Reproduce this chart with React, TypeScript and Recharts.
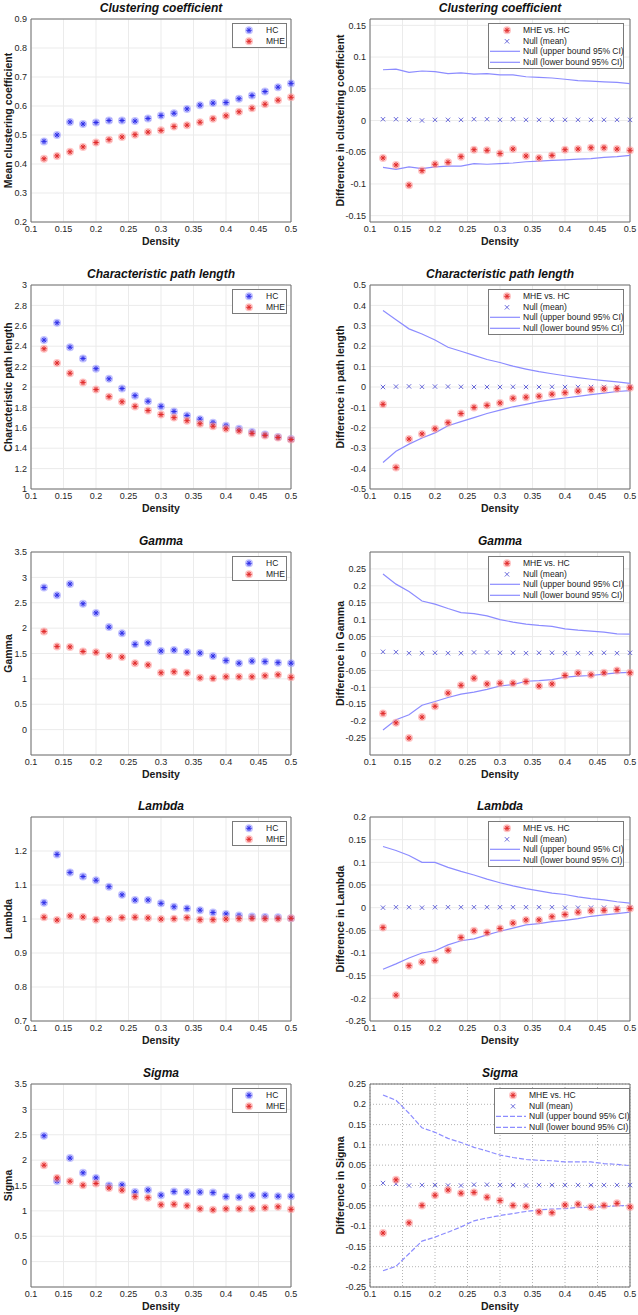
import React from 'react';
import { ComposedChart, Scatter, Line, XAxis, YAxis, CartesianGrid, ReferenceArea, Legend, Label } from 'recharts';

const density = [0.12, 0.14, 0.16, 0.18, 0.2, 0.22, 0.24, 0.26, 0.28, 0.3, 0.32, 0.34, 0.36, 0.38, 0.4, 0.42, 0.44, 0.46, 0.48, 0.5];
const densityTicks = [0.1, 0.15, 0.2, 0.25, 0.3, 0.35, 0.4, 0.45, 0.5];

// clustering coefficient
const ccHC = [0.478, 0.5, 0.545, 0.538, 0.543, 0.55, 0.55, 0.548, 0.557, 0.567, 0.575, 0.59, 0.603, 0.61, 0.612, 0.625, 0.636, 0.65, 0.665, 0.678];
const ccMHE = [0.418, 0.428, 0.442, 0.459, 0.474, 0.484, 0.493, 0.501, 0.51, 0.516, 0.529, 0.534, 0.544, 0.556, 0.566, 0.58, 0.592, 0.606, 0.62, 0.63];
const ccDiff = [-0.059, -0.07, -0.102, -0.079, -0.069, -0.066, -0.057, -0.046, -0.047, -0.052, -0.045, -0.056, -0.059, -0.055, -0.046, -0.045, -0.043, -0.043, -0.045, -0.047];
const ccNull = [0.002, 0.002, 0.001, 0.0, 0.001, 0.001, 0.001, 0.002, 0.002, 0.001, 0.002, 0.001, 0.001, 0.001, 0.001, 0.001, 0.001, 0.001, 0.001, 0.001];
const ccUpper = [0.08, 0.081, 0.076, 0.078, 0.077, 0.074, 0.075, 0.073, 0.074, 0.072, 0.072, 0.069, 0.068, 0.067, 0.065, 0.063, 0.062, 0.061, 0.06, 0.058];
const ccLower = [-0.074, -0.077, -0.073, -0.076, -0.073, -0.072, -0.072, -0.068, -0.069, -0.068, -0.067, -0.065, -0.064, -0.063, -0.062, -0.061, -0.06, -0.058, -0.057, -0.055];
const ccTicks = [0.2, 0.3, 0.4, 0.5, 0.6, 0.7, 0.8, 0.9];
const ccDiffTicks = [-0.15, -0.1, -0.05, 0, 0.05, 0.1, 0.15];

// characteristic path length
const plHC = [2.46, 2.63, 2.39, 2.28, 2.18, 2.08, 1.985, 1.915, 1.86, 1.81, 1.76, 1.72, 1.685, 1.65, 1.62, 1.59, 1.56, 1.535, 1.51, 1.49];
const plMHE = [2.375, 2.235, 2.135, 2.045, 1.975, 1.905, 1.855, 1.81, 1.77, 1.73, 1.7, 1.67, 1.64, 1.615, 1.59, 1.57, 1.545, 1.525, 1.505, 1.485];
const plDiff = [-0.085, -0.395, -0.255, -0.23, -0.205, -0.175, -0.13, -0.1, -0.09, -0.078, -0.055, -0.05, -0.045, -0.035, -0.028, -0.02, -0.013, -0.01, -0.008, -0.004];
const plNull = [0.0, 0.002, 0.003, 0.001, 0.002, 0.002, 0.001, 0.0, 0.0, 0.0, 0.001, 0.0, 0.0, 0.001, 0.0, 0.0, 0.0, 0.0, 0.0, 0.0];
const plUpper = [0.375, 0.33, 0.285, 0.26, 0.23, 0.195, 0.175, 0.155, 0.135, 0.12, 0.102, 0.088, 0.075, 0.065, 0.055, 0.046, 0.038, 0.031, 0.025, 0.018];
const plLower = [-0.37, -0.315, -0.28, -0.25, -0.225, -0.19, -0.17, -0.15, -0.13, -0.113, -0.097, -0.085, -0.072, -0.062, -0.054, -0.046, -0.037, -0.03, -0.022, -0.018];
const plTicks = [1, 1.2, 1.4, 1.6, 1.8, 2, 2.2, 2.4, 2.6, 2.8, 3];
const plDiffTicks = [-0.5, -0.4, -0.3, -0.2, -0.1, 0, 0.1, 0.2, 0.3, 0.4, 0.5];

// gamma
const gHC = [2.8, 2.65, 2.87, 2.48, 2.3, 2.02, 1.9, 1.68, 1.71, 1.55, 1.57, 1.53, 1.51, 1.45, 1.36, 1.31, 1.35, 1.34, 1.32, 1.31];
const gMHE = [1.935, 1.64, 1.63, 1.54, 1.525, 1.45, 1.43, 1.31, 1.275, 1.12, 1.14, 1.12, 1.02, 1.01, 1.04, 1.04, 1.04, 1.06, 1.08, 1.03];
const gDiff = [-0.177, -0.205, -0.25, -0.188, -0.156, -0.117, -0.094, -0.073, -0.09, -0.088, -0.088, -0.083, -0.096, -0.09, -0.065, -0.058, -0.063, -0.057, -0.05, -0.057];
const gNull = [0.005, 0.004, 0.001, 0.001, 0.002, 0.001, 0.001, 0.003, 0.003, 0.002, 0.002, 0.001, 0.002, 0.002, 0.001, 0.001, 0.001, 0.002, 0.001, 0.002];
const gUpper = [0.235, 0.205, 0.183, 0.155, 0.146, 0.133, 0.121, 0.118, 0.111, 0.1, 0.093, 0.087, 0.083, 0.08, 0.073, 0.069, 0.066, 0.063, 0.058, 0.057];
const gLower = [-0.226, -0.196, -0.181, -0.153, -0.142, -0.13, -0.12, -0.114, -0.106, -0.096, -0.092, -0.082, -0.08, -0.077, -0.07, -0.067, -0.065, -0.061, -0.057, -0.056];
const gTicks = [0, 0.5, 1, 1.5, 2, 2.5, 3, 3.5];
const gDiffTicks = [-0.25, -0.2, -0.15, -0.1, -0.05, 0, 0.05, 0.1, 0.15, 0.2, 0.25];

// lambda
const lHC = [1.048, 1.19, 1.137, 1.125, 1.114, 1.095, 1.071, 1.056, 1.056, 1.046, 1.036, 1.031, 1.026, 1.019, 1.015, 1.01, 1.007, 1.006, 1.005, 1.002];
const lMHE = [1.005, 0.997, 1.009, 1.006, 0.998, 1.0, 1.004, 1.005, 1.003, 1.0, 1.001, 1.004, 0.998, 0.998, 1.0, 1.001, 1.002, 1.001, 1.001, 1.002];
const lDiff = [-0.044, -0.193, -0.128, -0.12, -0.116, -0.094, -0.066, -0.051, -0.055, -0.046, -0.034, -0.027, -0.027, -0.02, -0.015, -0.01, -0.007, -0.006, -0.004, -0.002];
const lNull = [0.0, 0.001, 0.001, 0.0, 0.001, 0.001, 0.001, 0.001, 0.001, 0.001, 0.001, 0.001, 0.001, 0.001, 0.0, 0.0, 0.0, 0.0, 0.0, 0.0];
const lUpper = [0.135, 0.126, 0.115, 0.1, 0.1, 0.089, 0.08, 0.072, 0.063, 0.055, 0.048, 0.042, 0.037, 0.032, 0.029, 0.024, 0.02, 0.017, 0.013, 0.01];
const lLower = [-0.136, -0.124, -0.111, -0.1, -0.095, -0.082, -0.073, -0.069, -0.06, -0.052, -0.045, -0.038, -0.035, -0.031, -0.028, -0.024, -0.019, -0.016, -0.013, -0.01];
const lTicks = [0.7, 0.8, 0.9, 1, 1.1, 1.2];
const lDiffTicks = [-0.25, -0.2, -0.15, -0.1, -0.05, 0, 0.05, 0.1, 0.15, 0.2];

// sigma
const sHC = [2.48, 1.59, 2.04, 1.75, 1.65, 1.5, 1.51, 1.37, 1.41, 1.31, 1.38, 1.37, 1.37, 1.36, 1.28, 1.27, 1.31, 1.31, 1.29, 1.29];
const sMHE = [1.9, 1.65, 1.585, 1.505, 1.54, 1.45, 1.41, 1.28, 1.26, 1.12, 1.13, 1.1, 1.04, 1.02, 1.04, 1.04, 1.04, 1.06, 1.08, 1.03];
const sDiff = [-0.117, 0.014, -0.092, -0.049, -0.024, -0.011, -0.019, -0.017, -0.029, -0.037, -0.049, -0.051, -0.065, -0.067, -0.048, -0.046, -0.053, -0.049, -0.044, -0.053];
const sNull = [0.006, 0.004, 0.0, 0.001, 0.001, 0.0, 0.0, 0.002, 0.002, 0.001, 0.001, 0.0, 0.001, 0.001, 0.001, 0.001, 0.001, 0.001, 0.001, 0.001];
const sUpper = [0.223, 0.21, 0.178, 0.142, 0.131, 0.116, 0.106, 0.094, 0.085, 0.075, 0.069, 0.064, 0.062, 0.061, 0.058, 0.058, 0.058, 0.054, 0.052, 0.049];
const sLower = [-0.21, -0.199, -0.168, -0.137, -0.127, -0.115, -0.102, -0.087, -0.08, -0.074, -0.069, -0.064, -0.06, -0.058, -0.057, -0.054, -0.054, -0.052, -0.05, -0.049];
const sTicks = [0, 0.5, 1, 1.5, 2, 2.5, 3, 3.5];
const sDiffTicks = [-0.25, -0.2, -0.15, -0.1, -0.05, 0, 0.05, 0.1, 0.15, 0.2, 0.25];

const FONT = '"Liberation Sans", Arial, Helvetica, sans-serif';
const BLUE = { stroke: '#2f2fe8', halo: '#9c9cff' };
const RED = { stroke: '#e02a2a', halo: '#ff9e9e' };
const NULL_X = '#5a5ad6';
const CI_LINE = '#8c8cff';

const fmt = (v: number) => String(Math.round(v * 1000) / 1000);

function Asterisk({ cx, cy, color }: any) {
  const r = 2.7;
  const d = r * 0.7071;
  return (
    <g>
      <circle cx={cx} cy={cy} r={4} fill={color.halo} opacity={0.6} />
      <path
        d={`M${cx - r},${cy}H${cx + r}M${cx},${cy - r}V${cy + r}M${cx - d},${cy - d}L${cx + d},${cy + d}M${cx - d},${cy + d}L${cx + d},${cy - d}`}
        stroke={color.stroke}
        strokeWidth={1}
      />
    </g>
  );
}

function Cross({ cx, cy }: any) {
  const r = 2.2;
  return (
    <path
      d={`M${cx - r},${cy - r}L${cx + r},${cy + r}M${cx - r},${cy + r}L${cx + r},${cy - r}`}
      stroke={NULL_X}
      strokeWidth={0.9}
    />
  );
}

type LegendItem = { label: string; kind: 'hc' | 'mhe' | 'null' | 'line' };

function LegendBox({ items, width, markerX, textX, dashed }: any) {
  return (
    <div
      style={{
        width,
        boxSizing: 'border-box',
        border: '1px solid #7a7a7a',
        background: '#fff',
        fontFamily: FONT,
        fontSize: 8.5,
        color: '#1a1a1a',
        padding: '1px 0 1px 0',
      }}
    >
      {items.map((it: LegendItem) => (
        <div key={it.label} style={{ position: 'relative', height: 10.6, lineHeight: '10.6px' }}>
          <svg width={32} height={10.6} style={{ position: 'absolute', left: 0, top: 0 }}>
            {it.kind === 'hc' && <Asterisk cx={markerX} cy={5.3} color={BLUE} />}
            {it.kind === 'mhe' && <Asterisk cx={markerX} cy={5.3} color={RED} />}
            {it.kind === 'null' && <Cross cx={markerX} cy={5.3} />}
            {it.kind === 'line' && (
              <line x1={1} x2={31} y1={5.3} y2={5.3} stroke={CI_LINE} strokeWidth={1.2} strokeDasharray={dashed ? '5 2' : undefined} />
            )}
          </svg>
          <span style={{ position: 'absolute', left: textX, top: 0, whiteSpace: 'nowrap' }}>{it.label}</span>
        </div>
      ))}
    </div>
  );
}

const groupLegend: LegendItem[] = [
  { label: 'HC', kind: 'hc' },
  { label: 'MHE', kind: 'mhe' },
];
const diffLegend: LegendItem[] = [
  { label: 'MHE vs. HC', kind: 'mhe' },
  { label: 'Null (mean)', kind: 'null' },
  { label: 'Null (upper bound 95% CI)', kind: 'line' },
  { label: 'Null (lower bound 95% CI)', kind: 'line' },
];

function Panel(props: any) {
  const { left, top, plotH, side, title, yLabel, domain, ticks, series, dashed, dotted } = props;
  const isLeft = side === 'left';
  const width = isLeft ? 300 : 320;
  const axisW = isLeft ? 31 : 52;
  const rightM = isLeft ? 9 : 8;
  const height = 20 + plotH + 28;
  const data = density.map((x, i) => {
    const row: any = { x };
    Object.keys(series).forEach((k) => (row[k] = series[k][i]));
    return row;
  });
  const labelX = isLeft ? 8.3 : 22;

  return (
    <div style={{ position: 'absolute', left, top, width, height }}>
      <ComposedChart width={width} height={height} data={data} margin={{ top: 20, right: rightM, left: 0, bottom: 0 }}>
        <CartesianGrid
          stroke={dotted ? '#b4b4b4' : '#ebebeb'}
          strokeDasharray={dotted ? '1 2' : undefined}
        />
        <XAxis
          dataKey="x"
          type="number"
          domain={[0.1, 0.5]}
          ticks={densityTicks}
          interval={0}
          tickFormatter={fmt}
          axisLine={false}
          tickLine={false}
          tickSize={3}
          tickMargin={1}
          height={28}
          tick={{ fontSize: 9, fill: '#262626', fontFamily: FONT }}
        >
          <Label
            content={({ viewBox }: any) => (
              <text
                x={viewBox.x + viewBox.width / 2}
                y={viewBox.y + 19}
                textAnchor="middle"
                dominantBaseline="central"
                fontFamily={FONT}
                fontSize={10.5}
                fontWeight="bold"
                fill="#1a1a1a"
              >
                Density
              </text>
            )}
          />
        </XAxis>
        <YAxis
          type="number"
          domain={domain}
          ticks={ticks}
          interval={0}
          allowDataOverflow
          tickFormatter={fmt}
          axisLine={false}
          tickLine={false}
          tickSize={2}
          tickMargin={2}
          width={axisW}
          tick={{ fontSize: 9, fill: '#262626', fontFamily: FONT }}
        >
          <Label
            content={({ viewBox }: any) => {
              const cy = viewBox.y + viewBox.height / 2;
              return (
                <text
                  x={labelX}
                  y={cy}
                  transform={`rotate(-90, ${labelX}, ${cy})`}
                  textAnchor="middle"
                  dominantBaseline="central"
                  fontFamily={FONT}
                  fontSize={10.5}
                  fontWeight="bold"
                  fill="#1a1a1a"
                >
                  {yLabel}
                </text>
              );
            }}
          />
        </YAxis>
        <ReferenceArea x1={0.1} x2={0.5} y1={domain[0]} y2={domain[1]} fill="none" stroke="#6f6f6f" strokeWidth={1} fillOpacity={0}>
          <Label
            content={({ viewBox }: any) => (
              <text
                x={viewBox.x + viewBox.width / 2}
                y={viewBox.y - 11.5}
                textAnchor="middle"
                dominantBaseline="central"
                fontFamily={FONT}
                fontSize={12}
                fontWeight="bold"
                fontStyle="italic"
                fill="#111"
              >
                {title}
              </text>
            )}
          />
        </ReferenceArea>
        {isLeft ? (
          <>
            <Scatter dataKey="hc" data={data} isAnimationActive={false} shape={(p: any) => <Asterisk cx={p.cx} cy={p.cy} color={BLUE} />} />
            <Scatter dataKey="mhe" data={data} isAnimationActive={false} shape={(p: any) => <Asterisk cx={p.cx} cy={p.cy} color={RED} />} />
          </>
        ) : (
          <>
            <Line dataKey="upper" stroke={CI_LINE} strokeWidth={1.2} dot={false} activeDot={false} strokeDasharray={dashed ? '5 2' : undefined} isAnimationActive={false} />
            <Line dataKey="lower" stroke={CI_LINE} strokeWidth={1.2} dot={false} activeDot={false} strokeDasharray={dashed ? '5 2' : undefined} isAnimationActive={false} />
            <Scatter dataKey="nullMean" data={data} isAnimationActive={false} shape={(p: any) => <Cross cx={p.cx} cy={p.cy} />} />
            <Scatter dataKey="diff" data={data} isAnimationActive={false} shape={(p: any) => <Asterisk cx={p.cx} cy={p.cy} color={RED} />} />
          </>
        )}
        <Legend
          layout="vertical"
          align="center"
          verticalAlign="middle"
          wrapperStyle={
            isLeft
              ? { position: 'absolute', left: 232, top: 24, width: 55 }
              : { position: 'absolute', left: dashed ? 176 : 170, top: 24, width: 136 }
          }
          content={() =>
            isLeft ? (
              <LegendBox items={groupLegend} width={55} markerX={16} textX={33} />
            ) : (
              <LegendBox items={diffLegend} width={136} markerX={18} textX={34} dashed={dashed} />
            )
          }
        />
      </ComposedChart>
    </div>
  );
}

const rowTops = [19, 285, 552, 817, 1084];
const rowHeights = [203, 204, 203, 204, 203];

export default function App() {
  const rows = [
    {
      title: 'Clustering coefficient',
      left: { yLabel: 'Mean clustering coefficient', domain: [0.2, 0.9], ticks: ccTicks, series: { hc: ccHC, mhe: ccMHE } },
      right: { yLabel: 'Difference in clustering coefficient', domain: [-0.16, 0.16], ticks: ccDiffTicks, series: { diff: ccDiff, nullMean: ccNull, upper: ccUpper, lower: ccLower } },
    },
    {
      title: 'Characteristic path length',
      left: { yLabel: 'Characteristic path length', domain: [1, 3], ticks: plTicks, series: { hc: plHC, mhe: plMHE } },
      right: { yLabel: 'Difference in path length', domain: [-0.5, 0.5], ticks: plDiffTicks, series: { diff: plDiff, nullMean: plNull, upper: plUpper, lower: plLower } },
    },
    {
      title: 'Gamma',
      left: { yLabel: 'Gamma', domain: [-0.5, 3.5], ticks: gTicks, series: { hc: gHC, mhe: gMHE } },
      right: { yLabel: 'Difference in Gamma', domain: [-0.3, 0.3], ticks: gDiffTicks, series: { diff: gDiff, nullMean: gNull, upper: gUpper, lower: gLower } },
    },
    {
      title: 'Lambda',
      left: { yLabel: 'Lambda', domain: [0.7, 1.3], ticks: lTicks, series: { hc: lHC, mhe: lMHE } },
      right: { yLabel: 'Difference in Lambda', domain: [-0.25, 0.2], ticks: lDiffTicks, series: { diff: lDiff, nullMean: lNull, upper: lUpper, lower: lLower } },
    },
    {
      title: 'Sigma',
      left: { yLabel: 'Sigma', domain: [-0.5, 3.5], ticks: sTicks, series: { hc: sHC, mhe: sMHE } },
      right: { yLabel: 'Difference in Sigma', domain: [-0.25, 0.25], ticks: sDiffTicks, series: { diff: sDiff, nullMean: sNull, upper: sUpper, lower: sLower }, dashed: true, dotted: true },
    },
  ];

  return (
    <div style={{ position: 'absolute', left: 0, top: 0, width: 638, height: 1315, background: '#fff', fontFamily: FONT }}>
      {rows.map((r, i) => (
        <React.Fragment key={r.title}>
          <Panel side="left" left={0} top={rowTops[i] - 20} plotH={rowHeights[i]} title={r.title} {...r.left} />
          <Panel side="right" left={318} top={rowTops[i] - 20} plotH={rowHeights[i]} title={r.title} {...r.right} />
        </React.Fragment>
      ))}
    </div>
  );
}
